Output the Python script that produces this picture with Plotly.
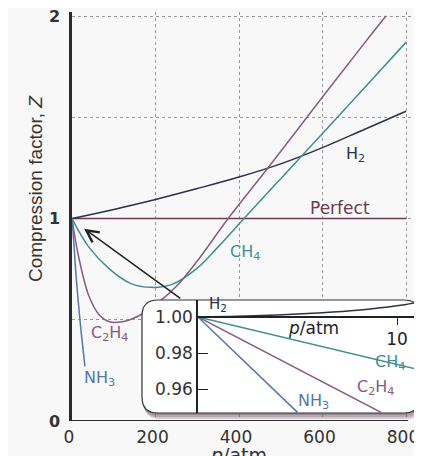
import plotly.graph_objects as go

# ---------------- data ----------------
h2_p = [0, 100, 200, 300, 400, 500, 600, 700, 800]
h2_z = [1.0, 1.045, 1.094, 1.148, 1.205, 1.27, 1.35, 1.44, 1.53]

ch4_p = [0, 40, 90, 140, 190, 240, 300, 350, 412, 500, 600, 700, 800]
ch4_z = [1.0, 0.86, 0.75, 0.68, 0.66, 0.675, 0.755, 0.86, 1.0, 1.197, 1.42, 1.645, 1.87]

c2h4_p = [0, 15, 40, 65, 90, 120, 160, 200, 250, 300, 374, 472, 600, 700, 752]
c2h4_z = [1.0, 0.82, 0.62, 0.525, 0.49, 0.49, 0.52, 0.575, 0.665, 0.79, 1.0, 1.257, 1.6, 1.865, 2.0]

nh3_p = [0, 3, 10, 20, 31]
nh3_z = [1.0, 0.92, 0.71, 0.48, 0.27]

perfect_p = [0, 800]
perfect_z = [1.0, 1.0]

# inset (low pressure)
in_h2_p = [0, 2, 4, 6, 8, 10, 11.2]
in_h2_z = [1.0, 1.0004, 1.0011, 1.0022, 1.0037, 1.0062, 1.0085]
in_ch4_p = [0, 11.2]
in_ch4_z = [1.0, 0.9705]
in_c2h4_p = [0, 9.2]
in_c2h4_z = [1.0, 0.947]
in_nh3_p = [0, 5.0]
in_nh3_z = [1.0, 0.947]

x_ticks = [0, 200, 400, 600, 800]
y_ticks = [0, 0.5, 1, 1.5, 2]
y_ticktext = ["0", "", "1", "", "2"]
inset_x_ticks = [10]
inset_y_ticks = [0.96, 0.98, 1.00]

# ---------------- colours ----------------
C_H2 = "#2b3048"
C_CH4 = "#3f8f8f"
C_C2H4 = "#8a5a80"
C_NH3 = "#5577aa"
C_PERF = "#6b3a50"
C_AX = "#2a2a2a"

FONT = "DejaVu Sans"

fig = go.Figure()

def line(x, y, color, xa="x", ya="y", shape="spline", w=1.5):
    fig.add_trace(go.Scatter(x=x, y=y, mode="lines", xaxis=xa, yaxis=ya,
                             line=dict(color=color, width=w, shape=shape, smoothing=1.0),
                             hoverinfo="skip", showlegend=False))

# main plot
line(perfect_p, perfect_z, C_PERF, shape="linear")
line(h2_p, h2_z, C_H2)
line(ch4_p, ch4_z, C_CH4)
line(c2h4_p, c2h4_z, C_C2H4)
line(nh3_p, nh3_z, C_NH3)

# box subplot (empty trace to register it)
fig.add_trace(go.Scatter(x=[], y=[], xaxis="x2", yaxis="y2", showlegend=False))

# inset
line(in_h2_p, in_h2_z, C_H2, "x3", "y3")
line(in_ch4_p, in_ch4_z, C_CH4, "x3", "y3", shape="linear")
line(in_c2h4_p, in_c2h4_z, C_C2H4, "x3", "y3", shape="linear")
line(in_nh3_p, in_nh3_z, C_NH3, "x3", "y3", shape="linear")

# ---------------- geometry (reference pixels; page body has an 8px margin) ----------------
OFF = 8
W, H = 422 - OFF, 456 - OFF
L, R, T, B = 72 - OFF, 0, 12 - OFF, 456 - 421
PW, PH = W - L - R, H - T - B
px_per_atm = 0.4175
def pxx(px):  # reference pixel x -> paper
    return (px - 72) / PW
def pxy(py):  # reference pixel y -> paper
    return (421 - py) / PH

def rpath(l, t, r, b, rad):
    return (f"M{l+rad},{t} L{r-rad},{t} Q{r},{t} {r},{t+rad} L{r},{b-rad} Q{r},{b} {r-rad},{b} "
            f"L{l+rad},{b} Q{l},{b} {l},{b-rad} L{l},{t+rad} Q{l},{t} {l+rad},{t} Z")

shapes = []
for dx, dy in [(2, 6), (1, 4), (0, 2)]:
    shapes.append(dict(type="path", xref="x2", yref="y2", layer="below",
                       path=rpath(142 + dx, 300 + dy, 420 + dx, 413 + dy, 16),
                       fillcolor="rgba(95,65,85,0.25)", line=dict(width=0)))
shapes.append(dict(type="path", xref="x2", yref="y2", layer="below",
                   path=rpath(142, 300, 420, 413, 16),
                   fillcolor="#ffffff", line=dict(color="#333333", width=1.2)))
shapes.append(dict(type="line", xref="x", yref="y", layer="between",
                   x0=0, x1=805, y0=0, y1=0, line=dict(color=C_AX, width=2)))

ann = []
def lab(x, y, text, color, size=16, xref="x", yref="y"):
    ann.append(dict(x=x, y=y, xref=xref, yref=yref, text=text, showarrow=False,
                    xanchor="center", yanchor="middle",
                    font=dict(family=FONT, size=size, color=color)))

lab(678, 1.314, "H<sub>2</sub>", C_H2)
lab(642, 1.052, "Perfect", C_PERF, 17)
lab(414, 0.83, "CH<sub>4</sub>", C_CH4)
lab(91, 0.43, "C<sub>2</sub>H<sub>4</sub>", C_C2H4)
lab(67, 0.21, "NH<sub>3</sub>", C_NH3)

lab(1.0, 1.0067, "H<sub>2</sub>", C_H2, 15, "x3", "y3")
lab(5.8, 0.9939, "<i>p</i>/atm", "#222222", 17, "x3", "y3")
lab(9.65, 0.975, "CH<sub>4</sub>", C_CH4, 16, "x3", "y3")
lab(8.9, 0.9606, "C<sub>2</sub>H<sub>4</sub>", C_C2H4, 16, "x3", "y3")
lab(5.8, 0.9528, "NH<sub>3</sub>", C_NH3, 16, "x3", "y3")

# arrow
ann.append(dict(x=29, y=0.95, xref="x", yref="y", ax=263, ay=0.60, axref="x", ayref="y",
                text="", showarrow=True, arrowhead=5, arrowsize=1.6, arrowwidth=1.5,
                arrowcolor="#222222", standoff=0))

# axis titles
ann.append(dict(x=pxx(35), y=pxy(189), xref="paper", yref="paper", text="Compression factor, <i>Z</i>",
                textangle=-90, showarrow=False, xanchor="center", yanchor="middle",
                font=dict(family="Liberation Sans", size=19, color="#333333")))
ann.append(dict(x=pxx(238), y=pxy(442), xref="paper", yref="paper", yanchor="top", xanchor="center",
                text="<i>p</i>/atm", showarrow=False,
                font=dict(family=FONT, size=19, color="#333333")))

fig.update_layout(
    width=W, height=H, autosize=False,
    margin=dict(l=L, r=R, t=T, b=B, pad=0),
    paper_bgcolor="#f8f8f8", plot_bgcolor="rgba(255,255,255,0)",
    shapes=shapes, annotations=ann, showlegend=False,
    xaxis=dict(domain=[0, 1], range=[0, PW / px_per_atm], tickvals=x_ticks,
               showgrid=True, gridcolor="#9a9a9a", griddash="dot", gridwidth=1,
               zeroline=False, showline=False, ticks="", automargin=False,
               ticklabeloverflow="allow", ticklabelshift=-3, ticklabelstandoff=4,
               tickfont=dict(family=FONT, size=17, color="#333333")),
    yaxis=dict(domain=[0, 1], range=[0, 2.02], tickvals=y_ticks, ticktext=y_ticktext,
               showgrid=True, gridcolor="#9a9a9a", griddash="dot", gridwidth=1,
               zeroline=False, showline=True, linecolor=C_AX, linewidth=2.5, ticks="",
               ticklabelstandoff=6, automargin=False, ticklabeloverflow="allow",
               tickfont=dict(family=FONT, size=16, color="#333333", weight="bold")),
    xaxis2=dict(domain=[pxx(138), 1], range=[138, 422], anchor="y2", visible=False),
    yaxis2=dict(domain=[0, pxy(296)], range=[421, 296], anchor="x2", visible=False),
    xaxis3=dict(domain=[pxx(198), pxx(420)], range=[0, (420 - 198) / 19.9], anchor="free",
                position=pxy(317), showline=True, linecolor="#222222", linewidth=1.5,
                ticks="outside", ticklen=7, tickcolor="#222222", tickvals=inset_x_ticks,
                showgrid=False, zeroline=False, automargin=False, ticklabeloverflow="allow",
                tickfont=dict(family=FONT, size=17, color="#222222")),
    yaxis3=dict(domain=[pxy(413), pxy(300)], range=[1 - 96 * 0.02 / 36, 1 + 17 * 0.02 / 36],
                anchor="x3", showline=True, linecolor="#222222", linewidth=1.5,
                ticks="inside", ticklen=10, tickcolor="#222222", tickvals=inset_y_ticks,
                tickformat=".2f", showgrid=False, zeroline=False, automargin=False,
                ticklabeloverflow="allow",
                tickfont=dict(family=FONT, size=17, color="#333333")),
)

fig.write_html("out.html")
